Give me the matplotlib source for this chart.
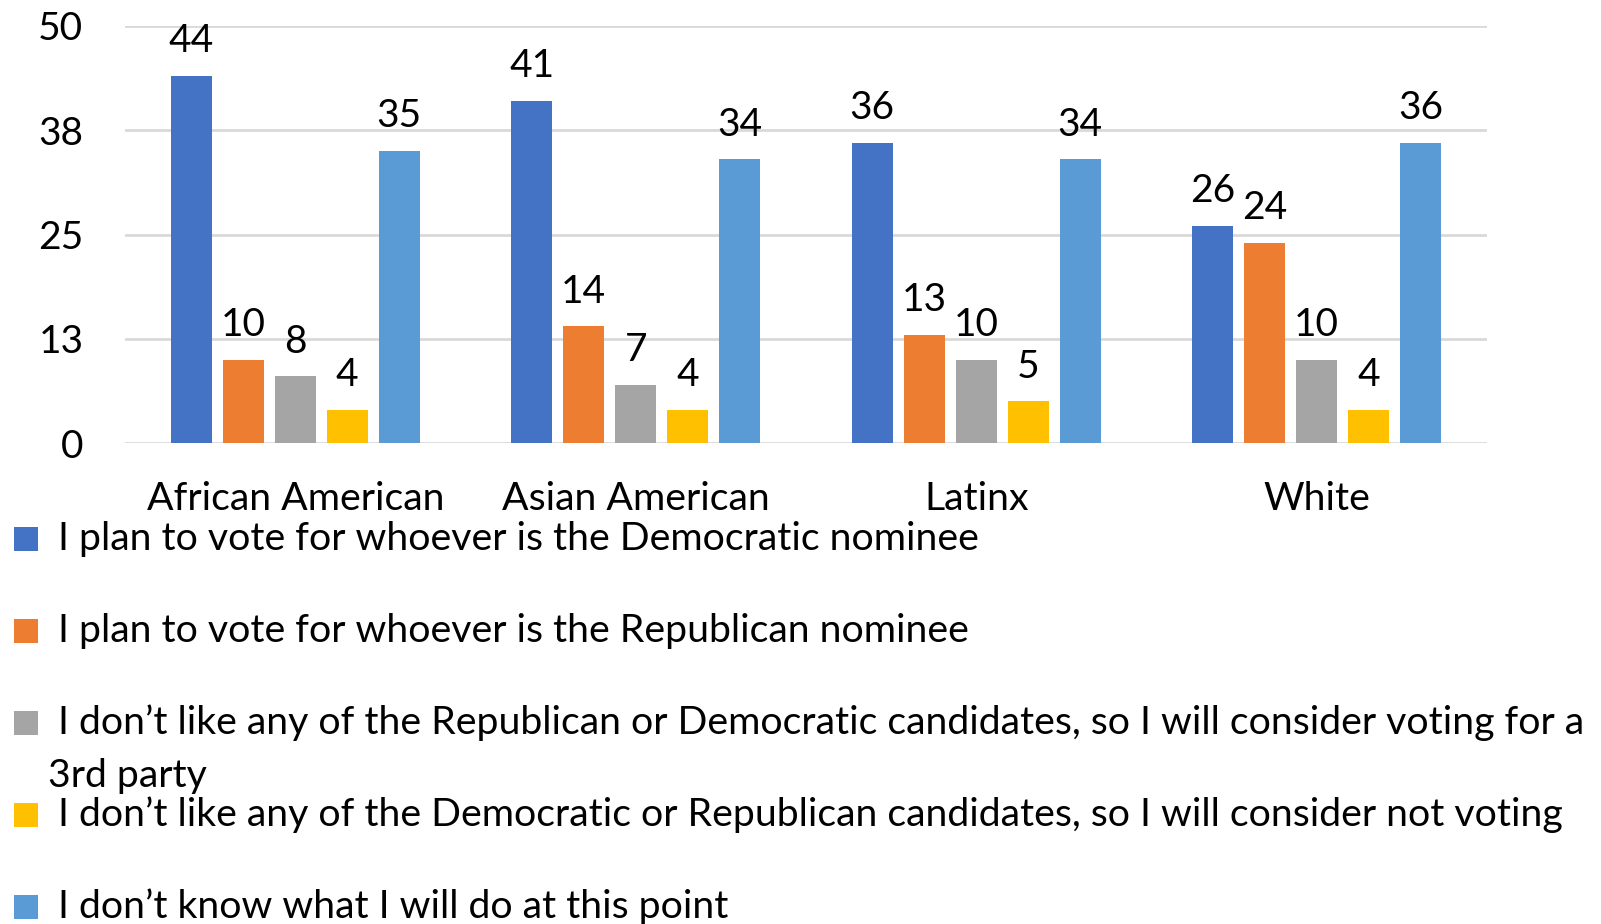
import matplotlib
matplotlib.use("Agg")
import matplotlib.pyplot as plt
from matplotlib.patches import Rectangle
import numpy as np

plt.rcParams['font.family'] = ['Lato', 'DejaVu Sans']

# groups and answer shares (%)
groups = ['African American', 'Asian American', 'Latinx', 'White']
dem_nominee = [44, 41, 36, 26]
rep_nominee = [10, 14, 13, 24]
third_party = [8, 7, 10, 10]
not_voting = [4, 4, 5, 4]
dont_know = [35, 34, 34, 36]

series_names = [
    'I plan to vote for whoever is the Democratic nominee',
    'I plan to vote for whoever is the Republican nominee',
    'I don\u2019t like any of the Republican or Democratic candidates, so I will consider voting for a',
    'I don\u2019t like any of the Democratic or Republican candidates, so I will consider not voting',
    'I don\u2019t know what I will do at this point',
]
wrap_line = '3rd party'
colors = ['#4472C4', '#ED7D31', '#A5A5A5', '#FFC000', '#5B9BD5']
yticks = [0, 12.5, 25, 37.5, 50]
ytick_labels = ['0', '13', '25', '38', '50']

series = [dem_nominee, rep_nominee, third_party, not_voting, dont_know]

W, H = 1601, 924
fig = plt.figure(figsize=(W / 100, H / 100), dpi=100)
ax = fig.add_axes([125 / W, 1 - 443 / H, (1487 - 125) / W, (443 - 26) / H])

fs = 28
fs_leg = 28.3
x = np.arange(len(groups))
step = 0.1527
bw = 0.12
for j, (vals, c) in enumerate(zip(series, colors)):
    pos = x + (j - 2) * step
    bars = ax.bar(pos, vals, width=bw, color=c, zorder=3)
    for b, v in zip(bars, vals):
        ax.annotate(str(v), (b.get_x() + b.get_width() / 2, v), xytext=(0, 12),
                    textcoords='offset points', ha='center', va='bottom',
                    fontsize=fs, color='black')

ax.set_xlim(-0.5, len(groups) - 0.5)
ax.set_ylim(0, 50)
ax.set_yticks(yticks)
ax.set_yticklabels(ytick_labels)
ax.set_xticks(x)
ax.set_xticklabels(groups, fontsize=fs_leg)
ax.tick_params(axis='y', length=0, labelsize=fs, pad=30)
ax.tick_params(axis='x', length=0, pad=27)
ax.yaxis.grid(True, color='#D9D9D9', linewidth=2, zorder=0)
ax.set_axisbelow(True)
for s in ax.spines.values():
    s.set_visible(False)

# legend drawn by hand, one row per series
rows_y = [539, 631, 723, 815, 907]
for name, c, yy in zip(series_names, colors, rows_y):
    fig.patches.append(Rectangle((14 / W, 1 - (yy + 12) / H), 24 / W, 24 / H,
                                 transform=fig.transFigure, facecolor=c,
                                 edgecolor='none'))
    fig.text(58 / W, 1 - yy / H, name, fontsize=fs_leg, va='center', ha='left')
fig.text(48 / W, 1 - 776 / H, wrap_line, fontsize=fs_leg, va='center', ha='left')

fig.savefig('out.png', dpi=100)
